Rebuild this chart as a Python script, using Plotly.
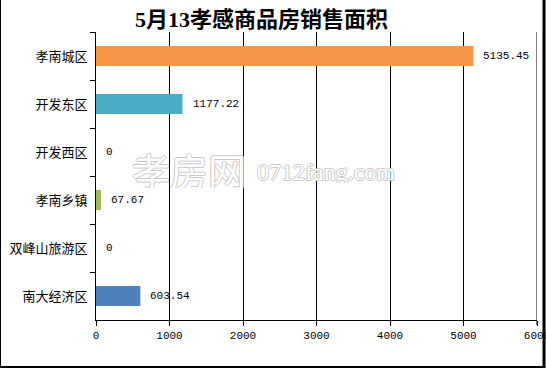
import plotly.graph_objects as go

categories = ["孝南城区", "开发东区", "开发西区", "孝南乡镇", "双峰山旅游区", "南大经济区"]
values = [5135.45, 1177.22, 0, 67.67, 0, 603.54]
value_labels = ["5135.45", "1177.22", "0", "67.67", "0", "603.54"]
bar_colors = ["#F79646", "#4BACC6", "#8064A2", "#9BBB59", "#C0504D", "#4F81BD"]
x_ticks = [0, 1000, 2000, 3000, 4000, 5000, 6000]
x_tick_labels = ["0", "1000", "2000", "3000", "4000", "5000", "6000"]
title_text = "5月13孝感商品房销售面积"

L, R, T, B = 96, 9, 32, 49
W, H = 546, 369
pw, ph = W - L - R, H - T - B

def px_x(p):
    return (p - L) / pw

def px_y(p):
    return (H - B - p) / ph

mono = "Liberation Mono, Noto Sans CJK SC, monospace"
cjk = "Noto Sans CJK SC, sans-serif"

fig = go.Figure()
fig.add_trace(go.Bar(
    y=categories, x=values, orientation="h",
    marker=dict(color=bar_colors, line=dict(width=0)),
    width=0.42,
    showlegend=False, hoverinfo="skip",
))

# watermark
outline = "-1px 0 #c8c8c8, 1px 0 #c8c8c8, 0 -1px #c8c8c8, 0 1px #c8c8c8"
fig.add_annotation(text="孝房网", xref="paper", yref="paper",
                   x=px_x(130), y=px_y(169), xanchor="left", yanchor="middle",
                   showarrow=False, height=38,
                   font=dict(family=cjk, size=38, color="white", shadow=outline))
fig.add_annotation(text="0712fang.com", xref="paper", yref="paper",
                   x=px_x(255), y=px_y(172), xanchor="left", yanchor="middle",
                   showarrow=False, height=22,
                   font=dict(family="Liberation Serif, serif", size=24, color="white", shadow=outline))

for c, v, t in zip(categories, values, value_labels):
    fig.add_annotation(x=v, y=c, text=t, xanchor="left", yanchor="middle",
                       xshift=8, showarrow=False,
                       font=dict(family=mono, size=11, color="black"))

fig.add_annotation(text=title_text, xref="paper", yref="paper",
                   x=px_x(261), y=px_y(20), xanchor="center", yanchor="middle",
                   showarrow=False,
                   font=dict(family="Liberation Serif, Noto Sans CJK SC", size=22,
                             color="black", weight="bold"))

# gridline at the right end of the axis
fig.add_shape(type="line", xref="x", yref="paper",
              x0=x_ticks[-1], x1=x_ticks[-1], y0=-5 / ph, y1=1,
              line=dict(color="black", width=1))

# outer frame
fig.add_shape(type="line", xref="paper", yref="paper",
              x0=px_x(0.5), x1=px_x(0.5), y0=px_y(0), y1=px_y(367), line=dict(color="black", width=1))
fig.add_shape(type="line", xref="paper", yref="paper",
              x0=px_x(544), x1=px_x(544), y0=px_y(0), y1=px_y(367.5), line=dict(color="black", width=3))
fig.add_shape(type="line", xref="paper", yref="paper",
              x0=px_x(0), x1=px_x(545.5), y0=px_y(367), y1=px_y(367), line=dict(color="black", width=2))

fig.update_layout(
    width=W, height=H,
    margin=dict(l=L, r=R, t=T, b=B, pad=0),
    paper_bgcolor="white", plot_bgcolor="white",
    xaxis=dict(range=[0, 6000], tickvals=x_ticks, ticktext=x_tick_labels,
               showgrid=True, gridcolor="black", gridwidth=1,
               zeroline=False, showline=True, linecolor="black", linewidth=1,
               ticks="outside", ticklen=5, tickcolor="black",
               ticklabeloverflow="allow", automargin=False,
               tickfont=dict(family=mono, size=11, color="black"),
               fixedrange=True),
    yaxis=dict(autorange="reversed", showgrid=False, zeroline=False,
               showline=True, linecolor="black", linewidth=1,
               ticks="outside", ticklen=5, tickcolor="black", tickson="boundaries",
               ticklabelstandoff=5, automargin=False,
               tickfont=dict(family=cjk, size=13, color="black"),
               fixedrange=True),
)

fig.write_html("out.html", config={"displayModeBar": False},
               post_script="document.body.style.margin='0';document.body.style.overflow='hidden';")
